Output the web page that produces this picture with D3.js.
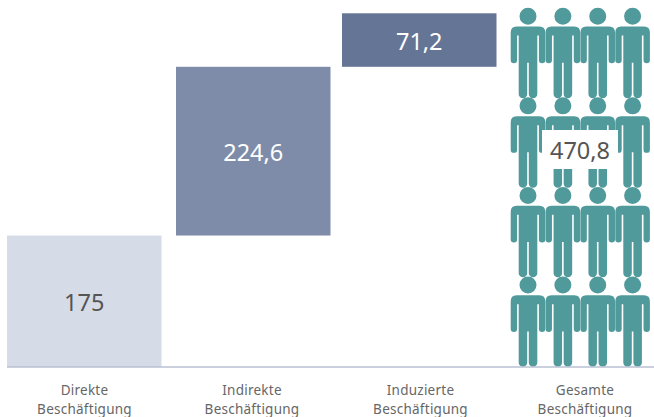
<!DOCTYPE html>
<html><head><meta charset="utf-8">
<script src="https://cdnjs.cloudflare.com/ajax/libs/d3/7.8.5/d3.min.js"></script>
<style>html,body{margin:0;padding:0;background:#fff}svg{display:block;font-family:"Noto Sans",sans-serif}</style>
</head><body><svg id="c" width="654" height="417"></svg>
<script>
const categories = ["Direkte", "Indirekte", "Induzierte", "Gesamte"];
const categoryLine2 = "Beschäftigung";
const barValues = [175, 224.6, 71.2];
const barLabels = ["175", "224,6", "71,2"];
const barColors = ["#d5dce7", "#7e8ca9", "#647596"];
const labelColors = ["#555555", "#ffffff", "#ffffff"];
const totalValue = 470.8;
const totalLabel = "470,8";
const iconRows = [0, 1, 2, 3];
const iconCols = [0, 1, 2, 3];

const W = 654, H = 417, baseY = 367, barW = 154.5;
const svg = d3.select("#c");
const y = d3.scaleLinear().domain([0, 488.5]).range([baseY, 0]);
const x = d3.scaleOrdinal().domain(categories).range([7, 176, 342, 510]);
const cx = d3.scaleOrdinal().domain(categories).range([84, 251.5, 420, 584.5]);

// waterfall bars
let cum = 0;
const bars = barValues.map((v, i) => {
  const d = {cat: categories[i], start: cum, end: cum + v, label: barLabels[i], color: barColors[i], lc: labelColors[i]};
  cum += v; return d;
});
svg.selectAll("rect.bar").data(bars).join("rect").attr("class", "bar")
  .attr("x", d => x(d.cat)).attr("width", barW)
  .attr("y", d => y(d.end)).attr("height", d => y(d.start) - y(d.end))
  .attr("fill", d => d.color);
svg.selectAll("text.val").data(bars).join("text").attr("class", "val")
  .attr("x", d => x(d.cat) + barW / 2).attr("y", d => (y(d.start) + y(d.end)) / 2 + 9.5)
  .attr("text-anchor", "middle").attr("font-size", 23.5).attr("fill", d => d.lc)
  .text(d => d.label);

// person icons
const colX = d3.scalePoint().domain(iconCols).range([528, 632.6]);
const rowY = d3.scalePoint().domain(iconRows).range([16.3, 285]);
const personPath = (() => {
  const p = d3.path();
  p.moveTo(8.5, 0); p.arc(0, 0, 8.5, 0, 2 * Math.PI); p.closePath();
  const t = 10.3;
  p.moveTo(-11.5, t);
  p.lineTo(11.5, t);
  p.quadraticCurveTo(17.3, t, 17.3, t + 6);
  p.lineTo(17.3, 43.8);
  p.arc(14.1, 43.8, 3.2, 0, Math.PI);
  p.lineTo(10.9, t + 9);
  p.lineTo(9.3, t + 9);
  p.lineTo(9.3, 77.6);
  p.arc(5.05, 77.6, 4.25, 0, Math.PI);
  p.lineTo(0.8, 46.5);
  p.lineTo(-0.8, 46.5);
  p.lineTo(-0.8, 77.6);
  p.arc(-5.05, 77.6, 4.25, 0, Math.PI);
  p.lineTo(-9.3, t + 9);
  p.lineTo(-10.9, t + 9);
  p.lineTo(-10.9, 43.8);
  p.arc(-14.1, 43.8, 3.2, 0, Math.PI);
  p.lineTo(-17.3, t + 6);
  p.quadraticCurveTo(-17.3, t, -11.5, t);
  p.closePath();
  return p.toString();
})();
const cells = iconRows.flatMap(r => iconCols.map(c => ({r, c})));
svg.selectAll("path.person").data(cells).join("path").attr("class", "person")
  .attr("d", personPath).attr("fill", "#519a9c")
  .attr("transform", d => `translate(${colX(d.c)},${rowY(d.r)})`);

// total label
svg.append("rect").attr("x", 542).attr("y", 130).attr("width", 76).attr("height", 39).attr("fill", "#fff");
svg.append("text").attr("x", 580).attr("y", 159).attr("text-anchor", "middle")
  .attr("font-size", 23.5).attr("fill", "#555555").attr("data-value", totalValue).text(totalLabel);

// baseline
svg.append("line").attr("x1", 7).attr("x2", W).attr("y1", baseY).attr("y2", baseY)
  .attr("stroke", "#b9c0d2").attr("stroke-width", 1.5);

// axis
const axis = svg.append("g").attr("transform", `translate(0,${baseY})`)
  .call(d3.axisBottom(cx).tickSize(0).tickPadding(0))
  .attr("font-family", '"Noto Sans",sans-serif').attr("font-size", 13.5);
axis.select(".domain").remove();
axis.selectAll("text").attr("fill", "#666666").attr("letter-spacing", 0.25)
  .attr("y", 0).attr("dy", null)
  .each(function (d) {
    const t = d3.select(this).text(null);
    t.append("tspan").attr("x", 0).attr("y", 27.5).text(d);
    t.append("tspan").attr("x", 0).attr("y", 47).text(categoryLine2);
  });
</script></body></html>
